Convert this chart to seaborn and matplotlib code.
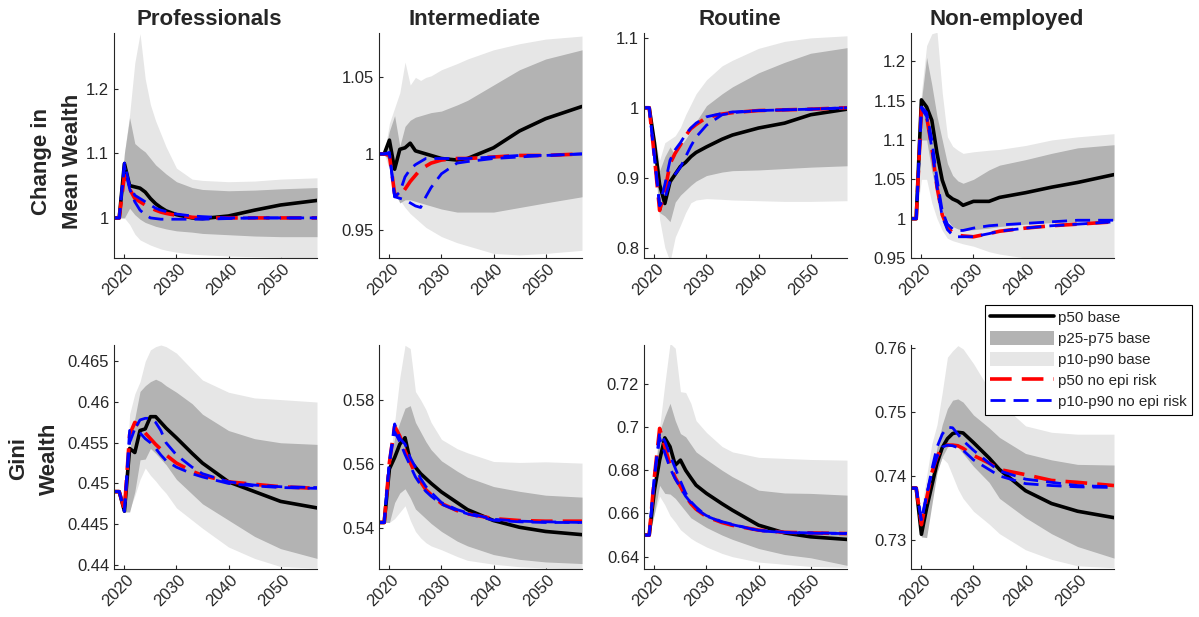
import matplotlib
matplotlib.use('Agg')
import matplotlib.pyplot as plt
import matplotlib.transforms as mtransforms
import seaborn as sns
from matplotlib.lines import Line2D
from matplotlib.patches import Patch
from matplotlib.ticker import MultipleLocator, FuncFormatter

# Años (puntos de lectura)
years = [2018, 2019, 2020, 2021, 2022, 2023, 2024, 2025, 2026, 2027, 2028,
         2030, 2033, 2035, 2040, 2045, 2050, 2057]

groups = ['Professionals', 'Intermediate', 'Routine', 'Non-employed']
row_labels = ['Change in\nMean Wealth', 'Gini\nWealth']
legend_labels = ['p50 base', 'p25-p75 base', 'p10-p90 base',
                 'p50 no epi risk', 'p10-p90 no epi risk']

# ---- Change in mean wealth ----
prof_mean_p50 = [1.0, 1.0, 1.084, 1.05, 1.048, 1.046, 1.04, 1.03, 1.022, 1.016, 1.011, 1.005, 1.0, 0.999, 1.003, 1.012, 1.02, 1.027]
prof_mean_p25 = [1.0, 1.0, 1.0, 1.015, 1.005, 0.998, 0.993, 0.99, 0.987, 0.985, 0.983, 0.98, 0.978, 0.976, 0.974, 0.972, 0.971, 0.971]
prof_mean_p75 = [1.0, 1.0, 1.1, 1.155, 1.115, 1.108, 1.102, 1.092, 1.082, 1.075, 1.068, 1.056, 1.047, 1.044, 1.042, 1.043, 1.045, 1.047]
prof_mean_p10 = [1.0, 1.0, 1.0, 0.99, 0.975, 0.966, 0.962, 0.958, 0.955, 0.952, 0.95, 0.947, 0.944, 0.943, 0.941, 0.94, 0.939, 0.938]
prof_mean_p90 = [1.0, 1.0, 1.1, 1.16, 1.24, 1.285, 1.215, 1.175, 1.15, 1.13, 1.11, 1.077, 1.06, 1.058, 1.056, 1.057, 1.06, 1.062]
prof_mean_ne50 = [1.0, 1.0, 1.066, 1.045, 1.03, 1.025, 1.02, 1.016, 1.012, 1.009, 1.007, 1.004, 1.001, 1.0, 1.0, 1.0, 1.0, 1.0]
prof_mean_ne90 = [1.0, 1.0, 1.085, 1.05, 1.035, 1.03, 1.025, 1.02, 1.015, 1.012, 1.01, 1.006, 1.003, 1.002, 1.0, 1.0, 1.0, 1.0]
prof_mean_ne10 = [1.0, 1.0, 1.08, 1.045, 1.025, 1.012, 1.005, 1.0, 0.999, 0.998, 0.998, 0.998, 0.998, 0.998, 0.999, 1.0, 1.0, 1.0]

inter_mean_p50 = [1.0, 1.0, 1.009, 0.99, 1.003, 1.004, 1.007, 1.002, 1.001, 1.0, 0.999, 0.997, 0.996, 0.997, 1.004, 1.015, 1.023, 1.031]
inter_mean_p25 = [1.0, 1.0, 0.995, 0.975, 0.968, 0.97, 0.97, 0.969, 0.968, 0.967, 0.966, 0.964, 0.962, 0.962, 0.962, 0.965, 0.968, 0.972]
inter_mean_p75 = [1.0, 1.0, 1.015, 1.025, 1.005, 1.018, 1.022, 1.024, 1.025, 1.026, 1.027, 1.028, 1.032, 1.035, 1.045, 1.055, 1.062, 1.068]
inter_mean_p10 = [1.0, 1.0, 0.99, 0.975, 0.97, 0.965, 0.961, 0.958, 0.955, 0.952, 0.95, 0.946, 0.942, 0.94, 0.935, 0.934, 0.935, 0.937]
inter_mean_p90 = [1.0, 1.0, 1.02, 1.03, 1.04, 1.06, 1.045, 1.05, 1.048, 1.05, 1.051, 1.055, 1.059, 1.062, 1.068, 1.072, 1.075, 1.077]
inter_mean_ne50 = [1.0, 1.0, 0.999, 0.974, 0.972, 0.977, 0.982, 0.986, 0.99, 0.992, 0.994, 0.996, 0.997, 0.997, 0.998, 0.999, 0.999, 1.0]
inter_mean_ne90 = [1.0, 1.0, 1.001, 0.972, 0.975, 0.985, 0.99, 0.993, 0.995, 0.997, 0.997, 0.997, 0.997, 0.997, 0.998, 0.999, 0.999, 1.0]
inter_mean_ne10 = [1.0, 1.0, 1.0, 0.972, 0.971, 0.97, 0.968, 0.966, 0.965, 0.972, 0.978, 0.987, 0.994, 0.995, 0.997, 0.998, 0.999, 1.0]

rout_mean_p50 = [1.0, 1.0, 0.95, 0.89, 0.863, 0.894, 0.905, 0.916, 0.922, 0.93, 0.936, 0.944, 0.955, 0.961, 0.971, 0.978, 0.99, 0.998]
rout_mean_p25 = [1.0, 1.0, 0.93, 0.85, 0.845, 0.837, 0.865, 0.875, 0.882, 0.889, 0.895, 0.903, 0.908, 0.91, 0.911, 0.913, 0.915, 0.917]
rout_mean_p75 = [1.0, 1.0, 0.95, 0.91, 0.93, 0.944, 0.932, 0.945, 0.955, 0.967, 0.98, 1.003, 1.02, 1.03, 1.05, 1.065, 1.078, 1.086]
rout_mean_p10 = [1.0, 1.0, 0.93, 0.84, 0.8, 0.78, 0.815, 0.832, 0.85, 0.864, 0.868, 0.87, 0.869, 0.868, 0.867, 0.866, 0.866, 0.867]
rout_mean_p90 = [1.0, 1.0, 0.96, 0.925, 0.95, 0.955, 0.96, 0.972, 0.99, 1.005, 1.02, 1.04, 1.06, 1.068, 1.085, 1.095, 1.1, 1.103]
rout_mean_ne50 = [1.0, 1.0, 0.93, 0.853, 0.88, 0.92, 0.935, 0.947, 0.96, 0.97, 0.976, 0.986, 0.991, 0.993, 0.996, 0.997, 0.998, 1.0]
rout_mean_ne90 = [1.0, 1.0, 0.93, 0.86, 0.89, 0.925, 0.94, 0.95, 0.962, 0.971, 0.978, 0.987, 0.992, 0.994, 0.996, 0.997, 0.998, 1.0]
rout_mean_ne10 = [1.0, 1.0, 0.93, 0.86, 0.87, 0.895, 0.905, 0.915, 0.93, 0.945, 0.958, 0.975, 0.99, 0.993, 0.996, 0.997, 0.998, 1.0]

nonemp_mean_p50 = [1.0, 1.0, 1.151, 1.142, 1.125, 1.083, 1.049, 1.03, 1.025, 1.022, 1.017, 1.022, 1.022, 1.027, 1.033, 1.04, 1.046, 1.056]
nonemp_mean_p25 = [1.0, 1.0, 1.1, 1.1, 1.06, 1.03, 1.01, 0.998, 0.99, 0.987, 0.985, 0.986, 0.988, 0.99, 0.993, 0.995, 0.996, 0.998]
nonemp_mean_p75 = [1.0, 1.0, 1.15, 1.205, 1.17, 1.13, 1.1, 1.07, 1.055, 1.048, 1.045, 1.05, 1.062, 1.068, 1.075, 1.083, 1.09, 1.094]
nonemp_mean_p10 = [1.0, 1.0, 1.05, 1.05, 1.02, 1.0, 0.985, 0.975, 0.972, 0.97, 0.968, 0.965, 0.958, 0.955, 0.95, 0.95, 0.95, 0.95]
nonemp_mean_p90 = [1.0, 1.0, 1.16, 1.22, 1.235, 1.237, 1.16, 1.104, 1.092, 1.087, 1.083, 1.085, 1.087, 1.088, 1.093, 1.1, 1.104, 1.108]
nonemp_mean_ne50 = [1.0, 1.0, 1.14, 1.13, 1.09, 1.04, 1.005, 0.989, 0.982, 0.979, 0.978, 0.977, 0.981, 0.984, 0.988, 0.991, 0.993, 0.996]
nonemp_mean_ne90 = [1.0, 1.0, 1.142, 1.135, 1.1, 1.05, 1.01, 0.993, 0.987, 0.985, 0.985, 0.988, 0.991, 0.992, 0.994, 0.996, 0.998, 0.998]
nonemp_mean_ne10 = [1.0, 1.0, 1.14, 1.13, 1.09, 1.04, 1.003, 0.986, 0.979, 0.977, 0.977, 0.977, 0.981, 0.984, 0.988, 0.991, 0.993, 0.996]

# ---- Gini wealth ----
prof_gini_p50 = [0.449, 0.449, 0.4466, 0.4543, 0.4538, 0.4565, 0.4567, 0.4582, 0.4582, 0.4575, 0.4568, 0.4556, 0.4537, 0.4525, 0.4502, 0.449, 0.4478, 0.447]
prof_gini_p25 = [0.449, 0.449, 0.4465, 0.4465, 0.449, 0.4529, 0.453, 0.4543, 0.4537, 0.453, 0.4523, 0.4505, 0.4487, 0.4475, 0.4455, 0.4435, 0.442, 0.4408]
prof_gini_p75 = [0.449, 0.449, 0.447, 0.454, 0.458, 0.4613, 0.462, 0.4625, 0.4628, 0.4625, 0.462, 0.4612, 0.4598, 0.4585, 0.4565, 0.4555, 0.455, 0.4548]
prof_gini_p10 = [0.449, 0.449, 0.4465, 0.4468, 0.4485, 0.4505, 0.4519, 0.451, 0.4503, 0.4495, 0.4488, 0.447, 0.4455, 0.4445, 0.4422, 0.4408, 0.4398, 0.4396]
prof_gini_p90 = [0.449, 0.449, 0.4465, 0.4585, 0.461, 0.4625, 0.465, 0.4664, 0.4668, 0.467, 0.4668, 0.466, 0.464, 0.4627, 0.4612, 0.4605, 0.4603, 0.46]
prof_gini_ne50 = [0.449, 0.449, 0.4468, 0.456, 0.4575, 0.457, 0.4562, 0.4555, 0.4548, 0.4542, 0.4535, 0.4525, 0.4515, 0.451, 0.4502, 0.4499, 0.4496, 0.4494]
prof_gini_ne90 = [0.449, 0.449, 0.4466, 0.4565, 0.4567, 0.4578, 0.458, 0.458, 0.4575, 0.4565, 0.455, 0.4535, 0.452, 0.4512, 0.4502, 0.4498, 0.4496, 0.4495]
prof_gini_ne10 = [0.449, 0.449, 0.4466, 0.455, 0.4567, 0.4562, 0.4555, 0.455, 0.4543, 0.4535, 0.4528, 0.452, 0.4512, 0.4508, 0.45, 0.4497, 0.4495, 0.4494]

inter_gini_p50 = [0.5418, 0.5418, 0.5585, 0.562, 0.5662, 0.5682, 0.561, 0.559, 0.557, 0.5555, 0.554, 0.5513, 0.548, 0.5458, 0.5424, 0.5403, 0.539, 0.538]
inter_gini_p25 = [0.5418, 0.5418, 0.5418, 0.548, 0.551, 0.5523, 0.5495, 0.546, 0.5445, 0.543, 0.5415, 0.539, 0.536, 0.5345, 0.5318, 0.5303, 0.5295, 0.529]
inter_gini_p75 = [0.5418, 0.5418, 0.56, 0.568, 0.573, 0.5774, 0.5782, 0.573, 0.57, 0.567, 0.5645, 0.561, 0.5578, 0.5559, 0.553, 0.5515, 0.5503, 0.5497]
inter_gini_p10 = [0.5418, 0.5418, 0.5418, 0.543, 0.545, 0.547, 0.5425, 0.539, 0.537, 0.5355, 0.5345, 0.5333, 0.5312, 0.53, 0.5288, 0.528, 0.5276, 0.5273]
inter_gini_p90 = [0.5418, 0.5418, 0.56, 0.573, 0.587, 0.597, 0.596, 0.5826, 0.58, 0.577, 0.573, 0.5677, 0.5648, 0.5635, 0.5608, 0.5605, 0.5607, 0.5603]
inter_gini_ne50 = [0.5418, 0.5418, 0.5605, 0.5718, 0.5687, 0.564, 0.5605, 0.557, 0.5545, 0.552, 0.5505, 0.5477, 0.5455, 0.5445, 0.543, 0.5424, 0.5422, 0.5422]
inter_gini_ne90 = [0.5418, 0.5418, 0.561, 0.5725, 0.568, 0.5662, 0.562, 0.559, 0.5555, 0.553, 0.5512, 0.548, 0.5458, 0.5448, 0.5428, 0.5422, 0.542, 0.5418]
inter_gini_ne10 = [0.5418, 0.5418, 0.5605, 0.57, 0.567, 0.563, 0.5595, 0.556, 0.5535, 0.5515, 0.55, 0.5475, 0.5455, 0.5445, 0.5425, 0.542, 0.5418, 0.5418]

rout_gini_p50 = [0.65, 0.65, 0.6708, 0.6847, 0.695, 0.6909, 0.6824, 0.6847, 0.68, 0.6765, 0.6731, 0.6693, 0.6645, 0.6615, 0.6546, 0.651, 0.6492, 0.648]
rout_gini_p25 = [0.65, 0.65, 0.66, 0.673, 0.6693, 0.669, 0.667, 0.664, 0.661, 0.658, 0.6565, 0.6535, 0.65, 0.648, 0.6438, 0.641, 0.6395, 0.636]
rout_gini_p75 = [0.65, 0.65, 0.675, 0.698, 0.705, 0.711, 0.703, 0.697, 0.6955, 0.692, 0.6885, 0.685, 0.68, 0.677, 0.6708, 0.6695, 0.6693, 0.6685]
rout_gini_p10 = [0.65, 0.65, 0.66, 0.668, 0.664, 0.659, 0.656, 0.6525, 0.6505, 0.6485, 0.647, 0.6445, 0.6415, 0.64, 0.6375, 0.6365, 0.6355, 0.635]
rout_gini_p90 = [0.65, 0.65, 0.68, 0.7, 0.72, 0.7388, 0.7365, 0.7164, 0.716, 0.711, 0.703, 0.6975, 0.691, 0.6885, 0.686, 0.6855, 0.685, 0.6847]
rout_gini_ne50 = [0.65, 0.65, 0.677, 0.6994, 0.6909, 0.6825, 0.6765, 0.6725, 0.668, 0.6646, 0.662, 0.6585, 0.6558, 0.6545, 0.6523, 0.6513, 0.651, 0.6507]
rout_gini_ne90 = [0.65, 0.65, 0.677, 0.6975, 0.6935, 0.687, 0.681, 0.675, 0.6695, 0.6655, 0.663, 0.6588, 0.656, 0.6548, 0.6522, 0.6513, 0.651, 0.6508]
rout_gini_ne10 = [0.65, 0.65, 0.677, 0.695, 0.688, 0.681, 0.676, 0.672, 0.668, 0.665, 0.662, 0.659, 0.6562, 0.655, 0.652, 0.6512, 0.6509, 0.6507]

nonemp_gini_p50 = [0.7381, 0.7381, 0.7309, 0.735, 0.7385, 0.742, 0.7444, 0.7458, 0.7466, 0.7468, 0.7467, 0.7452, 0.7428, 0.741, 0.7377, 0.7357, 0.7345, 0.7335]
nonemp_gini_p25 = [0.7381, 0.7381, 0.7305, 0.7304, 0.7355, 0.7405, 0.743, 0.7445, 0.7448, 0.7445, 0.7435, 0.7415, 0.739, 0.7365, 0.7335, 0.731, 0.729, 0.7272]
nonemp_gini_p75 = [0.7381, 0.7381, 0.733, 0.7365, 0.74, 0.7445, 0.748, 0.7505, 0.7518, 0.752, 0.7515, 0.7495, 0.7475, 0.746, 0.7435, 0.7425, 0.7418, 0.7417]
nonemp_gini_p10 = [0.7381, 0.7381, 0.7305, 0.733, 0.737, 0.741, 0.7428, 0.742, 0.74, 0.738, 0.7365, 0.7345, 0.7325, 0.731, 0.7285, 0.727, 0.726, 0.7257]
nonemp_gini_p90 = [0.7381, 0.7381, 0.735, 0.74, 0.745, 0.748, 0.753, 0.7585, 0.7595, 0.7603, 0.7598, 0.7575, 0.7535, 0.7515, 0.7478, 0.7468, 0.7465, 0.7465]
nonemp_gini_ne50 = [0.7381, 0.7381, 0.7324, 0.7365, 0.7405, 0.743, 0.7445, 0.7448, 0.7448, 0.7447, 0.7443, 0.7432, 0.742, 0.741, 0.7402, 0.7393, 0.739, 0.7385]
nonemp_gini_ne90 = [0.7381, 0.7381, 0.733, 0.737, 0.741, 0.7445, 0.7465, 0.7476, 0.7475, 0.7465, 0.7455, 0.744, 0.742, 0.7408, 0.7395, 0.739, 0.7385, 0.7383]
nonemp_gini_ne10 = [0.7381, 0.7381, 0.733, 0.737, 0.7405, 0.743, 0.7445, 0.7448, 0.7447, 0.7444, 0.744, 0.7425, 0.741, 0.74, 0.7388, 0.7385, 0.7383, 0.7382]

# (p10, p25, p50, p75, p90, no-epi p50, no-epi p10, no-epi p90) por panel
paneles = [
    [(prof_mean_p10, prof_mean_p25, prof_mean_p50, prof_mean_p75, prof_mean_p90, prof_mean_ne50, prof_mean_ne10, prof_mean_ne90),
     (inter_mean_p10, inter_mean_p25, inter_mean_p50, inter_mean_p75, inter_mean_p90, inter_mean_ne50, inter_mean_ne10, inter_mean_ne90),
     (rout_mean_p10, rout_mean_p25, rout_mean_p50, rout_mean_p75, rout_mean_p90, rout_mean_ne50, rout_mean_ne10, rout_mean_ne90),
     (nonemp_mean_p10, nonemp_mean_p25, nonemp_mean_p50, nonemp_mean_p75, nonemp_mean_p90, nonemp_mean_ne50, nonemp_mean_ne10, nonemp_mean_ne90)],
    [(prof_gini_p10, prof_gini_p25, prof_gini_p50, prof_gini_p75, prof_gini_p90, prof_gini_ne50, prof_gini_ne10, prof_gini_ne90),
     (inter_gini_p10, inter_gini_p25, inter_gini_p50, inter_gini_p75, inter_gini_p90, inter_gini_ne50, inter_gini_ne10, inter_gini_ne90),
     (rout_gini_p10, rout_gini_p25, rout_gini_p50, rout_gini_p75, rout_gini_p90, rout_gini_ne50, rout_gini_ne10, rout_gini_ne90),
     (nonemp_gini_p10, nonemp_gini_p25, nonemp_gini_p50, nonemp_gini_p75, nonemp_gini_p90, nonemp_gini_ne50, nonemp_gini_ne10, nonemp_gini_ne90)],
]

# Limites y pasos de los ejes Y
ylims = [[(0.938, 1.286), (0.932, 1.079), (0.785, 1.107), (0.95, 1.236)],
         [(0.4395, 0.467), (0.5273, 0.5971), (0.6343, 0.738), (0.7255, 0.7604)]]
ysteps = [[0.1, 0.05, 0.1, 0.05], [0.005, 0.02, 0.02, 0.01]]

sns.set_style('ticks')
plt.rcParams['font.family'] = ['Liberation Sans', 'DejaVu Sans']

W, H = 1199, 617
fig = plt.figure(figsize=(W / 100, H / 100), dpi=100)

gris_osc = '#b3b3b3'
gris_cla = '#e6e6e6'
eje_col = '#262626'
red_dash = (0, (6, 2.8))
blue_dash = (0, (5.4, 2.9))

lefts_px = [114, 379, 644, 911]
rows_px = [(33, 258), (345, 569)]
ancho_px = 203
# posicion de las etiquetas de fila (fraccion del eje)
ylabel_pos = [(-0.155, 0.43), (-0.268, 0.493)]

# desplazamiento de las etiquetas del eje x (estilo MATLAB)
desp = mtransforms.ScaledTranslation(7 / 100, -4 / 100, fig.dpi_scale_trans)

for r in range(2):
    top, bot = rows_px[r]
    for c in range(4):
        ax = fig.add_axes([lefts_px[c] / W, 1 - bot / H, ancho_px / W, (bot - top) / H])
        p10, p25, p50, p75, p90, n50, n10, n90 = paneles[r][c]

        ax.fill_between(years, p10, p90, color=gris_cla, lw=0)
        ax.fill_between(years, p25, p75, color=gris_osc, lw=0)
        sns.lineplot(x=years, y=p50, ax=ax, color='black', lw=2.6, legend=False, errorbar=None)
        sns.lineplot(x=years, y=n50, ax=ax, color='red', lw=2.6, linestyle=red_dash, legend=False, errorbar=None)
        sns.lineplot(x=years, y=n10, ax=ax, color='blue', lw=2.0, linestyle=blue_dash, legend=False, errorbar=None)
        sns.lineplot(x=years, y=n90, ax=ax, color='blue', lw=2.0, linestyle=blue_dash, legend=False, errorbar=None)

        ax.set_xlim(2018, 2057)
        ax.set_ylim(*ylims[r][c])
        ax.set_xticks([2020, 2030, 2040, 2050])
        ax.yaxis.set_major_locator(MultipleLocator(ysteps[r][c]))
        ax.yaxis.set_major_formatter(FuncFormatter(lambda v, p: f'{v:g}'))
        ax.tick_params(direction='in', length=3, width=0.8, colors=eje_col, labelsize=12)
        for lab in ax.get_xticklabels():
            lab.set_rotation(45)
            lab.set_ha('right')
            lab.set_va('center')
            lab.set_rotation_mode('anchor')
            lab.set_transform(lab.get_transform() + desp)
        sns.despine(ax=ax)
        for s in ['left', 'bottom']:
            ax.spines[s].set_color(eje_col)
            ax.spines[s].set_linewidth(0.8)
        ax.set_xlabel('')
        ax.set_ylabel('')
        if r == 0:
            ax.set_title(groups[c], fontsize=16, fontweight='bold', pad=6, x=0.47)
        if c == 0:
            ax.set_ylabel(row_labels[r], fontsize=16, fontweight='bold', linespacing=1.62)
            ax.yaxis.set_label_coords(*ylabel_pos[r])

handles = [
    Line2D([], [], color='black', lw=2.6),
    Patch(facecolor=gris_osc, edgecolor='none'),
    Patch(facecolor=gris_cla, edgecolor='none'),
    Line2D([], [], color='red', lw=2.6, linestyle=red_dash),
    Line2D([], [], color='blue', lw=2.0, linestyle=blue_dash),
]
leg = fig.legend(handles, legend_labels, loc='upper left', bbox_to_anchor=(985 / W, 1 - 305 / H),
                 fontsize=10.9, handlelength=4.2, handleheight=1.0, handletextpad=0.25,
                 labelspacing=0.4, borderpad=0.35, borderaxespad=0, fancybox=False,
                 framealpha=1, edgecolor='black')
leg.get_frame().set_linewidth(0.8)

plt.savefig('out.png', dpi=100)
